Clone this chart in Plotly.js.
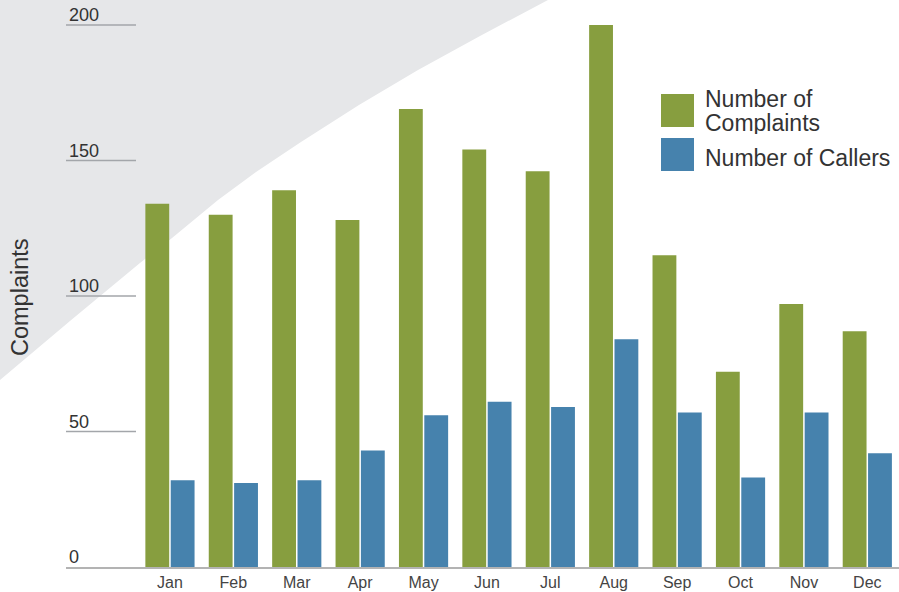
<!DOCTYPE html>
<html>
<head>
<meta charset="utf-8">
<script src="https://cdn.plot.ly/plotly-3.0.1.min.js"></script>
<style>
html,body{margin:0;padding:0;background:#fff;}
#chart{width:899px;height:592px;}
</style>
</head>
<body>
<div id="chart"></div>
<script>
var months = ["Jan","Feb","Mar","Apr","May","Jun","Jul","Aug","Sep","Oct","Nov","Dec"];
var complaints = [134,130,139,128,169,154,146,200,115,72,97,87];
var callers = [32,31,32,43,56,61,59,84,57,33,57,42];
var seriesNames = ["Number of Complaints","Number of Callers"];
var seriesColors = ["#879e3f","#4682ad"];
var yTicks = [0,50,100,150,200];
var yTitle = "Complaints";

// plot area in pixels: left 66, right 899, top 0, bottom 567
var L = 66, R = 899, B = 567, T = 0;
function px(x){ return (x - L)/(R - L); }
function py(y){ return (B - y)/(B - T); }
var FONT = "Liberation Sans, Arial, sans-serif";

// background curved shape outline (pixels -> paper coords)
var bgPts = [[-10,-10],[560,-10],[548,0],[480,36],[418,70],[359,105],[301,142],[256,172],[218,200],[172,238],[140,263],[70,321],[0,380],[-10,390]];
var path = bgPts.map(function(p,i){ return (i===0?"M":"L") + px(p[0]).toFixed(4) + "," + py(p[1]).toFixed(4); }).join(" ") + " Z";

var shapes = [{
  type:"path", xref:"paper", yref:"paper", path:path,
  fillcolor:"#e6e7e9", line:{width:0}, layer:"below"
}];
yTicks.forEach(function(v){
  if (v === 0) return;
  shapes.push({type:"line", xref:"paper", yref:"y", x0:0, x1:px(136), y0:v, y1:v,
    line:{color:"#a3a6aa", width:1.5}, layer:"below"});
});
// legend squares
shapes.push({type:"rect", xref:"paper", yref:"paper", x0:px(661), x1:px(694), y0:py(127), y1:py(94),
  fillcolor:seriesColors[0], line:{width:0}});
shapes.push({type:"rect", xref:"paper", yref:"paper", x0:px(661), x1:px(694), y0:py(171), y1:py(138),
  fillcolor:seriesColors[1], line:{width:0}});

var legFont = {size:23, color:"#333", family:FONT};
var firstWords = seriesNames[0].split(" ");
var annotations = [
  {xref:"paper", yref:"paper", x:px(20), y:py(297), xanchor:"center", yanchor:"middle",
   text:yTitle, textangle:-90, showarrow:false,
   font:{size:23.5, color:"#333", family:FONT}},
  {xref:"paper", yref:"paper", x:px(703), y:py(99), xanchor:"left", yanchor:"middle", height:22,
   text:firstWords.slice(0,2).join(" "), showarrow:false, font:legFont},
  {xref:"paper", yref:"paper", x:px(703), y:py(123), xanchor:"left", yanchor:"middle", height:22,
   text:firstWords.slice(2).join(" "), showarrow:false, font:legFont},
  {xref:"paper", yref:"paper", x:px(703), y:py(158), xanchor:"left", yanchor:"middle", height:22,
   text:seriesNames[1], showarrow:false, font:legFont}
];

var data = [
  {type:"bar", x:months, y:complaints, name:seriesNames[0], marker:{color:seriesColors[0]}, hoverinfo:"y"},
  {type:"bar", x:months, y:callers, name:seriesNames[1], marker:{color:seriesColors[1]}, hoverinfo:"y"}
];

var layout = {
  width:899, height:592,
  margin:{l:L, r:0, t:0, b:25, pad:0},
  paper_bgcolor:"rgba(0,0,0,0)", plot_bgcolor:"rgba(0,0,0,0)",
  showlegend:false,
  barmode:"group", bargap:0.2, bargroupgap:0.06,
  font:{family:FONT, color:"#444"},
  xaxis:{
    type:"category", range:[-1.64, 11.5],
    showgrid:false, zeroline:false,
    showline:true, linecolor:"#b3b3b3", linewidth:2,
    ticks:"", tickfont:{size:16, color:"#444"}, fixedrange:true
  },
  yaxis:{
    range:[0, 209.2], tickvals:yTicks, ticktext:yTicks.map(String),
    showgrid:false, zeroline:false, showline:false, ticks:"",
    ticklabelposition:"inside", ticklabelshift:-10, ticklabelstandoff:0,
    ticklabeloverflow:"allow",
    tickfont:{size:18, color:"#333"}, fixedrange:true
  },
  shapes:shapes,
  annotations:annotations
};

Plotly.newPlot("chart", data, layout, {displayModeBar:false, staticPlot:true});
</script>
</body>
</html>
